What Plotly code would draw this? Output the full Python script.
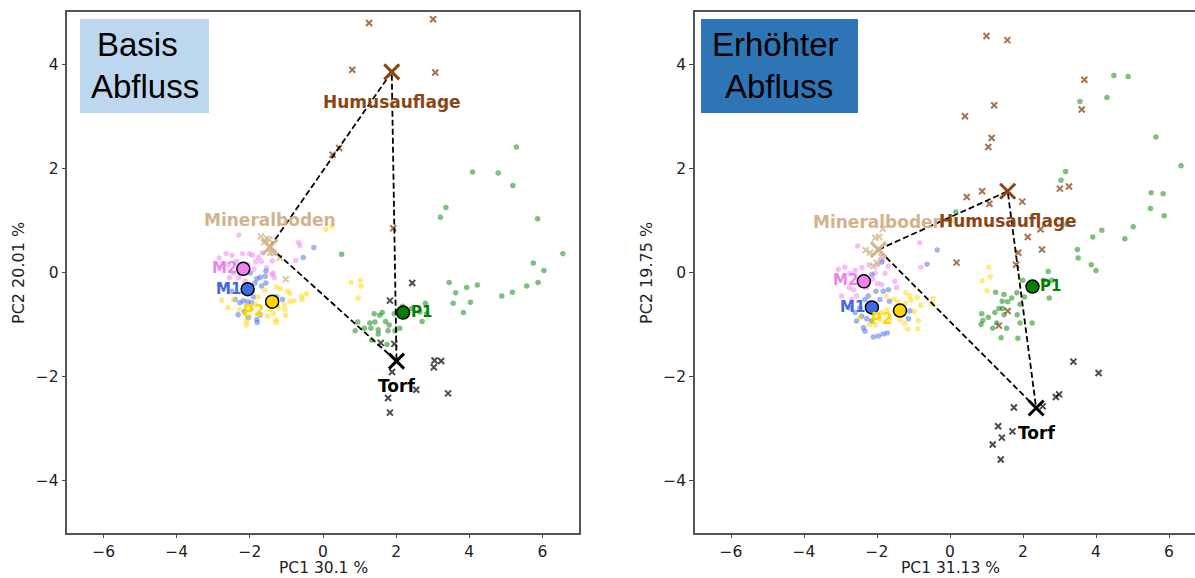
import plotly.graph_objects as go

W, H = 1195, 578

# ---------------- data: left panel (Basis Abfluss) ----------------
left_m2 = [(-2.30,0.72),(-2.84,0.28),(-2.65,0.36),(-2.49,0.33),(-2.20,0.36),(-2.01,0.36),(-1.93,0.33),
           (-1.76,0.29),(-1.66,0.38),(-1.84,0.21),(-1.69,0.21),(-1.39,0.22),(-1.89,0.06),(-1.40,-0.04),
           (-1.33,-0.10),(-1.54,0.09),(-2.77,0.12),(-2.59,0.15),(-2.45,-0.01),(-2.56,-0.10),(-2.31,-0.10),
           (-2.13,-0.17),(-0.67,0.58),(-0.63,0.52),(-0.75,0.23),(-1.36,-0.01),(-2.36,0.22),(-2.05,0.15),
           (-2.25,0.05)]
left_m1 = [(-0.25,0.48),(-0.54,0.29),(-1.56,0.03),(-1.58,-0.07),(-1.72,-0.09),(-1.81,-0.12),(-1.86,-0.20),
           (-1.56,-0.20),(-1.68,-0.26),(-2.63,-0.23),(-2.83,-0.23),(-2.49,-0.36),(-2.40,-0.52),(-2.27,-0.58),
           (-2.18,-0.54),(-2.06,-0.56),(-1.95,-0.58),(-1.90,-0.47),(-2.15,-0.75),(-2.04,-0.87),(-1.81,-0.90),
           (-1.72,-0.81),(-1.11,-0.52),(-1.27,-0.47),(-2.27,-0.01),(-1.99,-0.01),(-1.80,-0.96),(-2.32,-0.81)]
left_p2 = [(0.08,0.83),(0.25,0.89),(0.77,-0.19),(1.02,-0.15),(1.04,-0.26),(0.96,-0.49),(-1.28,-0.28),
           (-1.17,-0.31),(-0.98,-0.36),(-0.90,-0.40),(-0.79,-0.54),(-0.58,-0.45),(-0.45,-0.41),(-1.06,-0.61),
           (-1.22,-0.68),(-1.36,-0.79),(-1.28,-0.90),(-1.52,-0.84),(-1.59,-0.34),(-1.78,-0.47),(-1.85,-0.60),
           (-1.95,-0.70),(-2.14,-0.79),(-2.10,-0.93),(-2.29,-0.71),(-2.60,-0.67),(-2.77,-0.53),(-2.45,-0.52),
           (-1.04,-0.71),(-1.45,-0.71),(-2.01,-0.84),(-0.90,-0.55),(-0.57,-0.52),(-2.10,-1.01),(-1.28,-0.96),
           (-1.02,-0.82)]
left_p1 = [(5.29,2.41),(4.09,1.93),(4.79,1.91),(5.19,1.67),(3.36,1.25),(3.21,1.06),(5.87,1.03),(0.51,0.35),
           (6.56,0.36),(5.75,0.18),(6.04,0.04),(3.45,-0.19),(3.93,-0.29),(4.22,-0.24),(3.63,-0.39),(5.57,-0.26),
           (5.88,-0.19),(5.18,-0.38),(4.89,-0.45),(3.56,-0.59),(4.03,-0.57),(3.84,-0.77),(2.80,-0.59),
           (2.71,-0.94),(2.65,-0.76),(2.83,-0.79),(2.42,-0.69),(2.18,-0.65),(1.40,-0.79),(1.55,-0.82),
           (1.62,-0.77),(1.71,-0.94),(1.81,-1.01),(1.95,-0.79),(1.42,-0.95),(1.28,-0.97),(1.13,-1.07),
           (0.95,-0.95),(0.88,-1.12),(1.31,-1.07),(1.51,-1.10),(1.78,-1.12),(1.97,-1.12),(2.10,-1.07),
           (1.51,-1.18),(1.33,-1.30),(1.75,-1.38)]
left_humus = [(1.26,4.79),(3.01,4.86),(0.80,3.89),(3.07,3.84),(0.44,2.39),(0.26,2.26),(1.92,0.85)]
left_mineral = [(-1.70,0.69),(-1.54,0.65),(-1.61,0.58),(-1.47,0.63),(-1.37,0.38),(-1.19,0.28),
                (-1.02,-0.13),(-1.44,0.38)]
left_torf = [(2.44,-0.20),(1.83,-0.54),(1.58,-1.35),(1.95,-1.37),(1.89,-1.91),(3.05,-1.69),(3.23,-1.70),
             (3.03,-1.82),(2.55,-2.25),(3.42,-2.32),(1.78,-2.41),(1.83,-2.69)]
left_centroids = {"M2": (-2.18, 0.07), "M1": (-2.06, -0.32), "P2": (-1.39, -0.56), "P1": (2.19, -0.77)}
left_endmembers = {"Mineralboden": (-1.45, 0.49), "Humusauflage": (1.88, 3.85), "Torf": (2.01, -1.70)}

# ---------------- data: right panel (Erhöhter Abfluss) ----------------
right_m2 = [(-2.53,0.51),(-3.06,0.06),(-2.88,0.10),(-2.74,-0.02),(-2.60,0.04),(-2.41,0.09),(-2.22,0.15),
            (-1.99,0.15),(-1.86,0.24),(-1.78,-0.02),(-2.12,-0.13),(-1.99,-0.21),(-1.87,-0.23),(-1.51,-0.17),
            (-1.46,-0.29),(-2.76,-0.29),(-2.65,-0.33),(-2.97,-0.45),(-2.56,-0.45),(-2.69,-0.52),(-3.10,-0.09),
            (-2.28,-0.29),(-2.05,-0.01),(-1.69,0.12),(-0.83,0.57),(-0.80,0.10)]
right_m1 = [(-2.14,-0.04),(-1.87,0.20),(-2.03,-0.36),(-1.83,-0.36),(-1.69,-0.33),(-2.33,-0.52),(-2.24,-0.45),
            (-2.47,-0.68),(-2.60,-0.77),(-2.42,-0.84),(-2.28,-0.89),(-2.56,-0.93),(-2.37,-1.06),(-2.33,-1.13),
            (-2.10,-1.24),(-1.96,-1.22),(-1.83,-1.18),(-1.72,-1.16),(-2.15,-0.93),(-1.92,-0.52),(-1.66,-0.55),
            (-1.10,-0.74),(-1.14,-0.89),(-2.74,-0.68),(-0.35,0.43),(-0.63,0.16)]
right_p2 = [(-1.21,-0.39),(-1.07,-0.53),(-0.90,-0.48),(-0.80,-0.63),(-0.98,-0.75),(-0.87,-0.92),(-1.16,-1.09),
            (-1.24,-0.98),(-1.37,-0.90),(-1.55,-0.52),(-1.43,-0.56),(-1.72,-0.72),(-1.87,-0.77),(-2.05,-1.01),
            (-2.21,-1.00),(-2.47,-0.87),(-1.75,-0.45),(-1.10,-0.45),(-1.22,-0.59),(-0.46,-0.50),(-1.92,-0.90),
            (-2.19,-0.71),(-1.66,-0.89),(-0.51,-0.60),(-0.88,-1.08),(1.06,0.10),(1.10,-0.08),(0.88,-0.16),
            (1.01,-0.35),(0.10,1.00)]
right_p1 = [(4.49,3.78),(4.88,3.76),(4.30,3.36),(3.56,3.28),(5.64,2.60),(6.33,2.05),(3.17,1.94),(3.04,1.77),
            (5.51,1.53),(5.84,1.51),(5.49,1.23),(5.87,1.09),(5.02,0.88),(4.16,0.81),(3.91,0.68),(4.79,0.65),
            (3.49,0.44),(3.51,0.28),(3.87,0.15),(4.00,0.04),(0.16,1.16),(3.20,0.92),(2.69,0.02),(1.99,-0.15),
            (2.56,-0.15),(2.79,-0.15),(2.72,-0.49),(2.04,-0.47),(1.83,-0.39),(1.25,-0.38),(1.48,-0.42),
            (1.43,-0.55),(1.58,-0.56),(1.69,-0.49),(1.92,-0.61),(1.34,-0.69),(1.44,-0.69),(1.23,-0.77),
            (1.48,-0.81),(1.84,-0.81),(0.87,-0.79),(1.05,-0.86),(0.90,-0.92),(0.85,-1.00),(1.28,-0.97),
            (1.92,-0.97),(2.25,-0.97),(1.17,-1.07),(1.55,-1.07),(1.40,-1.25),(1.86,-1.26)]
right_humus = [(1.00,4.54),(1.57,4.46),(3.68,3.70),(3.61,3.13),(1.21,3.21),(0.41,3.00),(1.14,2.58),
               (1.05,2.41),(3.01,1.61),(3.26,1.65),(0.46,1.45),(0.88,1.56),(1.08,1.32),(1.98,1.36),
               (2.48,0.83),(2.13,0.68),(2.52,0.44),(1.87,0.38),(1.81,0.15),(0.18,0.19),(1.58,-0.74),
               (1.34,-1.02)]
right_mineral = [(-2.05,0.67),(-1.94,0.68),(-2.31,0.43),(-2.19,0.38),(-1.89,0.31),(-2.01,0.19),
                 (-1.84,0.84),(-2.10,0.12)]
right_torf = [(3.38,-1.71),(4.07,-1.93),(2.90,-2.39),(2.99,-2.34),(1.75,-2.59),(2.54,-2.57),(1.32,-2.95),
              (1.71,-3.05),(1.42,-3.17),(1.17,-3.30),(1.39,-3.59)]
right_centroids = {"M2": (-2.36, -0.17), "M1": (-2.14, -0.67), "P2": (-1.37, -0.73), "P1": (2.26, -0.27)}
right_endmembers = {"Mineralboden": (-1.96, 0.44), "Humusauflage": (1.58, 1.56), "Torf": (2.36, -2.60)}

x_ticks = [-6, -4, -2, 0, 2, 4, 6]
y_ticks = [-4, -2, 0, 2, 4]
panel_titles = [("Basis", "Abfluss"), ("Erhöhter", "Abfluss")]
x_titles = ["PC1 30.1 %", "PC1 31.13 %"]
y_titles = ["PC2 20.01 %", "PC2 19.75 %"]

# ---------------- styles ----------------
GROUP_COL = {"M2": "rgba(238,130,238,0.5)", "M1": "rgba(65,105,225,0.5)",
             "P2": "rgba(255,215,0,0.5)", "P1": "rgba(0,128,0,0.5)"}
SOLID_COL = {"M2": "#EE82EE", "M1": "#4169E1", "P2": "#FFD700", "P1": "#008000"}
EM_COL = {"Humusauflage": "#8B4513", "Mineralboden": "#D2B48C", "Torf": "#000000"}
EM_SAMPLE_COL = {"Humusauflage": "rgba(139,69,19,0.75)", "Mineralboden": "rgba(210,180,140,0.75)",
                 "Torf": "rgba(0,0,0,0.7)"}
LABEL_OFF = {"M2": (-0.50, 0.02), "M1": (-0.53, 0.01), "P2": (-0.50, -0.17), "P1": (0.50, 0.01)}
EM_OFF = {"Mineralboden": (0.01, 0.52), "Humusauflage": (0.0, -0.58), "Torf": (0.0, -0.48)}
FONT = "DejaVu Sans"

def px_x(p):
    return p / W

def px_y(p):
    return 1 - p / H

fig = go.Figure()

panels = [
    dict(xa="x", ya="y", m2=left_m2, m1=left_m1, p2=left_p2, p1=left_p1, humus=left_humus,
         mineral=left_mineral, torf=left_torf, cen=left_centroids, em=left_endmembers),
    dict(xa="x2", ya="y2", m2=right_m2, m1=right_m1, p2=right_p2, p1=right_p1, humus=right_humus,
         mineral=right_mineral, torf=right_torf, cen=right_centroids, em=right_endmembers),
]

annotations = []
for p in panels:
    xa, ya = p["xa"], p["ya"]
    for key, pts in (("M2", p["m2"]), ("M1", p["m1"]), ("P2", p["p2"]), ("P1", p["p1"])):
        fig.add_trace(go.Scatter(x=[a for a, b in pts], y=[b for a, b in pts], mode="markers",
                                 xaxis=xa, yaxis=ya, showlegend=False, hoverinfo="skip",
                                 marker=dict(size=5.5, color=GROUP_COL[key], line=dict(width=0))))
    for name, pts in (("Humusauflage", p["humus"]), ("Mineralboden", p["mineral"]), ("Torf", p["torf"])):
        fig.add_trace(go.Scatter(x=[a for a, b in pts], y=[b for a, b in pts], mode="markers",
                                 xaxis=xa, yaxis=ya, showlegend=False, hoverinfo="skip",
                                 marker=dict(symbol="x-thin", size=6, color=EM_SAMPLE_COL[name],
                                             line=dict(width=2, color=EM_SAMPLE_COL[name]))))
    em = p["em"]
    order = ["Mineralboden", "Humusauflage", "Torf", "Mineralboden"]
    fig.add_trace(go.Scatter(x=[em[k][0] for k in order], y=[em[k][1] for k in order], mode="lines",
                             xaxis=xa, yaxis=ya, showlegend=False, hoverinfo="skip",
                             line=dict(color="black", width=1.8, dash="6px,3px")))
    for name in ("Mineralboden", "Humusauflage", "Torf"):
        fig.add_trace(go.Scatter(x=[em[name][0]], y=[em[name][1]], mode="markers",
                                 xaxis=xa, yaxis=ya, showlegend=False, hoverinfo="skip",
                                 marker=dict(symbol="x-thin", size=15, color=EM_COL[name],
                                             line=dict(width=3, color=EM_COL[name]))))
    for key in ("M2", "M1", "P2", "P1"):
        cx, cy = p["cen"][key]
        fig.add_trace(go.Scatter(x=[cx], y=[cy], mode="markers", xaxis=xa, yaxis=ya,
                                 showlegend=False, hoverinfo="skip",
                                 marker=dict(size=13, color=SOLID_COL[key],
                                             line=dict(width=1.5, color="black"))))
    for name in ("Mineralboden", "Humusauflage", "Torf"):
        dx, dy = EM_OFF[name]
        annotations.append(dict(x=em[name][0] + dx, y=em[name][1] + dy, xref=xa, yref=ya,
                                text=name, showarrow=False,
                                font=dict(family=FONT, size=17, color=EM_COL[name], weight="bold")))
    for key in ("M2", "M1", "P2", "P1"):
        cx, cy = p["cen"][key]
        dx, dy = LABEL_OFF[key]
        annotations.append(dict(x=cx + dx, y=cy + dy, xref=xa, yref=ya, text=key, showarrow=False,
                                font=dict(family=FONT, size=15, color=SOLID_COL[key], weight="bold")))

shapes = [
    dict(type="rect", xref="paper", yref="paper", x0=px_x(80), x1=px_x(209), y0=px_y(113), y1=px_y(19),
         fillcolor="#BDD7EE", line=dict(width=0), layer="above"),
    dict(type="rect", xref="paper", yref="paper", x0=px_x(701), x1=px_x(858), y0=px_y(113), y1=px_y(19),
         fillcolor="#2E75B6", line=dict(width=0), layer="above"),
]
box_text = [((137, 45), panel_titles[0][0]), ((145, 86), panel_titles[0][1]),
            ((775, 45), panel_titles[1][0]), ((779, 86), panel_titles[1][1])]
for (tx, ty), t in box_text:
    annotations.append(dict(x=px_x(tx), y=px_y(ty), xref="paper", yref="paper", text=t, showarrow=False,
                            xanchor="center", yanchor="middle",
                            font=dict(family="Liberation Sans, Arial", size=33, color="black")))

for cx, t in ((323, x_titles[0]), (950, x_titles[1])):
    annotations.append(dict(x=px_x(cx), y=0, xref="paper", yref="paper", text=t, showarrow=False,
                            xanchor="center", yanchor="bottom", borderpad=0,
                            font=dict(family=FONT, size=15.5, color="#222")))
for cx, t in ((18, y_titles[0]), (646, y_titles[1])):
    annotations.append(dict(x=px_x(cx), y=px_y(273), xref="paper", yref="paper", text=t, showarrow=False,
                            xanchor="center", yanchor="middle", textangle=-90,
                            font=dict(family=FONT, size=16, color="#222")))

axis_common = dict(showgrid=False, zeroline=False, ticks="outside", ticklen=3.5, tickwidth=1.2,
                   tickcolor="#444", linecolor="#555", linewidth=1.5, showline=True,
                   tickfont=dict(family=FONT, size=15.5, color="#222"))
ydom = [px_y(533), px_y(12)]

fig.update_layout(
    width=W, height=H, margin=dict(l=0, r=0, t=0, b=0),
    plot_bgcolor="white", paper_bgcolor="white",
    xaxis=dict(domain=[px_x(67), px_x(579)], range=[-7, 7], tickvals=x_ticks, mirror=True,
               anchor="y", **axis_common),
    yaxis=dict(domain=ydom, range=[-5, 5], tickvals=y_ticks, mirror=True, anchor="x", **axis_common),
    xaxis2=dict(domain=[px_x(694.5), 1.0], range=[-7, (W - 950) / 36.5], tickvals=x_ticks, mirror=True,
                anchor="y2", **axis_common),
    yaxis2=dict(domain=ydom, range=[-5, 5], tickvals=y_ticks, mirror=False, anchor="x2", **axis_common),
    annotations=annotations, shapes=shapes,
)

fig.write_html("out.html", config={"displayModeBar": False},
               post_script="document.body.style.margin='0';document.body.style.overflow='hidden';")
